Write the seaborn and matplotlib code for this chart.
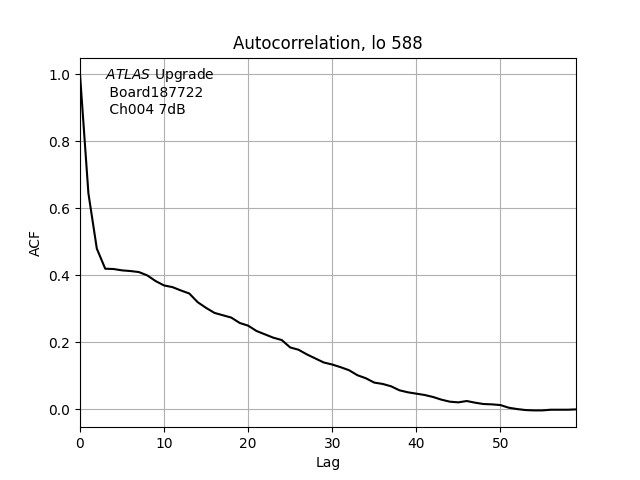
import numpy as np
import pandas as pd
import seaborn as sns
import matplotlib
matplotlib.use("Agg")
import matplotlib.pyplot as plt

# ACF values, lag 0..59
lags = list(range(60))
acf = [1.000, 0.645, 0.480, 0.420, 0.419, 0.415, 0.413, 0.410, 0.400, 0.383,
       0.370, 0.365, 0.355, 0.346, 0.320, 0.303, 0.288, 0.281, 0.274, 0.258,
       0.250, 0.234, 0.224, 0.214, 0.207, 0.185, 0.178, 0.164, 0.152, 0.140,
       0.134, 0.126, 0.117, 0.102, 0.093, 0.080, 0.076, 0.069, 0.057, 0.051,
       0.047, 0.043, 0.037, 0.029, 0.023, 0.021, 0.025, 0.020, 0.016, 0.015,
       0.013, 0.005, 0.001, -0.002, -0.003, -0.003, -0.001, -0.001, -0.001, 0.000]

title = "Autocorrelation, lo 588"
label_text = r"$\it{ATLAS}$ Upgrade" + "\n Board187722\n Ch004 7dB"

df = pd.DataFrame({"Lag": lags, "ACF": acf})

fig, ax = plt.subplots(figsize=(6.4, 4.8), dpi=100)
sns.lineplot(data=df, x="Lag", y="ACF", color="black", linewidth=1.5, ax=ax)
ax.set_xlim(0, 59)
ax.grid(True)
ax.set_title(title)
ax.set_xlabel("Lag")
ax.set_ylabel("ACF")
ax.text(0.05, 0.977, label_text, transform=ax.transAxes, va="top", ha="left")

fig.savefig("out.png", dpi=100)
